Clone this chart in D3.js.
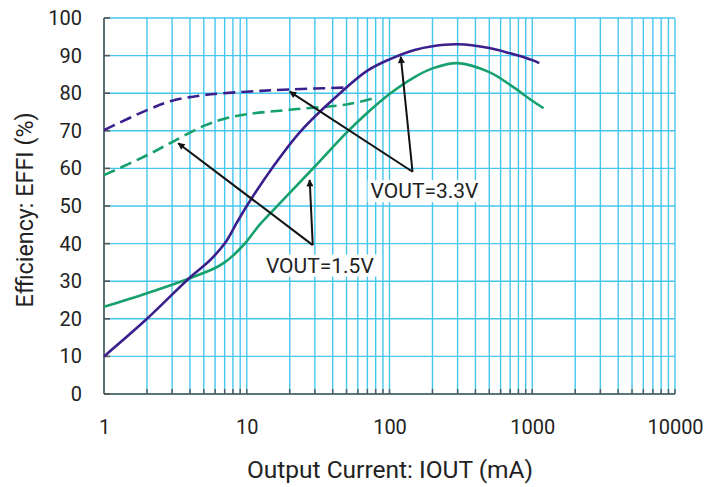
<!DOCTYPE html>
<meta charset="utf-8">
<style>
    body { margin: 0; background: #fff; }
    text { font-family: Roboto, "Liberation Sans", sans-serif; fill: #222; }
    .axis .domain { display: none; }
    .axis text { font-size: 20px; }
</style>
<svg width="704" height="487"></svg>
<script src="https://d3js.org/d3.v7.min.js"></script>
<script>

    // PWM (solid) and PFM (dashed) curves
    var pwm33_x = [1, 2, 4, 5.5, 7, 8.5, 10, 15, 24, 45, 70, 100, 150, 200, 300, 500, 700, 1000, 1120];
    var pwm33_y = [10, 20, 31, 35.5, 40, 45.5, 50, 60, 70, 80, 86, 89, 91.5, 92.5, 93, 92, 90.6, 88.8, 88];

    var pwm15_x = [1, 2, 4, 6, 7, 8, 9, 10, 12, 15, 20, 30, 50, 70, 100, 150, 200, 300, 500, 700, 1000, 1200];
    var pwm15_y = [23.2, 26.8, 30.8, 33.5, 35, 36.8, 38.7, 40.6, 44.5, 48.5, 53.5, 60.5, 69.5, 74.8, 79.8, 84.3, 86.6, 88, 85.6, 82.2, 78, 76];

    var pfm33_x = [1, 2, 3, 5, 10, 20, 50];
    var pfm33_y = [70.2, 75.5, 78, 79.5, 80.4, 81, 81.5];

    var pfm15_x = [1, 2, 3, 5, 7, 10, 20, 50, 75];
    var pfm15_y = [58.2, 63.5, 67, 71.3, 73.2, 74.4, 75.6, 77, 78.5];

    var xTicks = [1, 10, 100, 1000, 10000];
    var yTicks = d3.range(0, 101, 10);

    // annotations: label position, arrow start and arrow targets (mA, %)
    var labels = ["VOUT=1.5V", "VOUT=3.3V"];
    var labelAt = [[32.5, 34.3], [176, 54.1]];
    var arrowFrom = [[29, 39.6], [145, 59.1]];
    var arrowTo = [[[3.31, 66.7], [27.6, 56.9]], [[20, 80.4], [120, 89.7]]];

    var svg = d3.select("svg"),
        margin = {top: 18, right: 29, bottom: 93, left: 104},
        width = +svg.attr("width") - margin.left - margin.right,
        height = +svg.attr("height") - margin.top - margin.bottom;

    var purple = "#3b1f8c",
        green = "#15a06c",
        gridColor = "#45c6ef";

    var x = d3.scaleLog()
        .domain([1, 10000])
        .range([margin.left, margin.left + width]);

    var y = d3.scaleLinear()
        .domain([0, 100])
        .range([margin.top + height, margin.top]);

    // minor grid values 1..9 per decade
    var gridX = [];
    for (var d = 1; d < 10000; d *= 10) {
        for (var k = 1; k < 10; k++) gridX.push(d * k);
    }
    gridX.push(10000);

    var grid = svg.append("g")
        .attr("stroke", gridColor)
        .attr("stroke-width", 1.4);

    grid.selectAll(".vx")
        .data(gridX)
        .enter().append("line")
        .attr("x1", function(d) { return x(d); })
        .attr("x2", function(d) { return x(d); })
        .attr("y1", y(0))
        .attr("y2", y(100));

    grid.selectAll(".hy")
        .data(yTicks)
        .enter().append("line")
        .attr("x1", x(1))
        .attr("x2", x(10000))
        .attr("y1", function(d) { return y(d); })
        .attr("y2", function(d) { return y(d); });

    // dark axis lines with short inside ticks
    var axisCol = "#555";
    svg.append("line")
        .attr("x1", x(1)).attr("x2", x(1))
        .attr("y1", y(0)).attr("y2", y(100))
        .attr("stroke", axisCol).attr("stroke-width", 1.6);
    svg.append("line")
        .attr("x1", x(1)).attr("x2", x(10000))
        .attr("y1", y(0)).attr("y2", y(0))
        .attr("stroke", axisCol).attr("stroke-width", 1.6);

    svg.append("g").selectAll("line")
        .data(yTicks)
        .enter().append("line")
        .attr("x1", x(1)).attr("x2", x(1) + 6)
        .attr("y1", function(d) { return y(d); })
        .attr("y2", function(d) { return y(d); })
        .attr("stroke", axisCol).attr("stroke-width", 1.6);

    svg.append("g").selectAll("line")
        .data(gridX.slice(1))
        .enter().append("line")
        .attr("x1", function(d) { return x(d); })
        .attr("x2", function(d) { return x(d); })
        .attr("y1", y(0)).attr("y2", y(0) - 5)
        .attr("stroke", axisCol).attr("stroke-width", 1.4);

    svg.append("g")
        .attr("class", "axis")
        .attr("transform", "translate(0," + y(0) + ")")
        .call(d3.axisBottom(x).tickValues(xTicks).tickFormat(d3.format("d")).tickSize(0).tickPadding(26));

    svg.append("g")
        .attr("class", "axis")
        .attr("transform", "translate(" + x(1) + ",0)")
        .call(d3.axisLeft(y).tickValues(yTicks).tickSize(0).tickPadding(22));

    svg.selectAll(".axis text").attr("fill", "#222");

    // axis titles
    svg.append("text")
        .attr("x", 390)
        .attr("y", 478)
        .attr("text-anchor", "middle")
        .attr("font-size", 24.5)
        .text("Output Current: IOUT (mA)");

    svg.append("text")
        .attr("transform", "translate(33," + 210 + ") rotate(-90)")
        .attr("text-anchor", "middle")
        .attr("font-size", 23.3)
        .text("Efficiency: EFFI (%)");

    // curves
    var line = d3.line()
        .curve(d3.curveCatmullRom.alpha(0.5))
        .x(function(d) { return x(d[0]); })
        .y(function(d) { return y(d[1]); });

    var series = [
        {xs: pfm33_x, ys: pfm33_y, color: purple, dash: "12,6"},
        {xs: pfm15_x, ys: pfm15_y, color: green, dash: "12,6"},
        {xs: pwm15_x, ys: pwm15_y, color: green, dash: null},
        {xs: pwm33_x, ys: pwm33_y, color: purple, dash: null}
    ];

    svg.append("g").selectAll("path")
        .data(series)
        .enter().append("path")
        .attr("fill", "none")
        .attr("stroke", function(d) { return d.color; })
        .attr("stroke-width", 2.6)
        .attr("stroke-dasharray", function(d) { return d.dash; })
        .attr("d", function(d) { return line(d3.zip(d.xs, d.ys)); });

    // arrows
    svg.append("defs").append("marker")
        .attr("id", "head")
        .attr("viewBox", "0 0 10 10")
        .attr("refX", 9).attr("refY", 5)
        .attr("markerWidth", 10).attr("markerHeight", 7)
        .attr("markerUnits", "userSpaceOnUse")
        .attr("orient", "auto")
        .append("path")
        .attr("d", "M0,0L10,5L0,10z")
        .attr("fill", "#111");

    labels.forEach(function(lab, i) {
        arrowTo[i].forEach(function(t) {
            svg.append("line")
                .attr("x1", x(arrowFrom[i][0])).attr("y1", y(arrowFrom[i][1]))
                .attr("x2", x(t[0])).attr("y2", y(t[1]))
                .attr("stroke", "#111")
                .attr("stroke-width", 2)
                .attr("marker-end", "url(#head)");
        });

        var g = svg.append("g");
        var txt = g.append("text")
            .attr("x", x(labelAt[i][0]))
            .attr("y", y(labelAt[i][1]))
            .attr("dy", "0.36em")
            .attr("text-anchor", "middle")
            .attr("font-size", 21)
            .text(lab);
        var bb = txt.node().getBBox();
        g.insert("rect", "text")
            .attr("x", bb.x - 3).attr("y", bb.y + 1)
            .attr("width", bb.width + 6).attr("height", bb.height - 2)
            .attr("fill", "#fff");
    });

</script>
